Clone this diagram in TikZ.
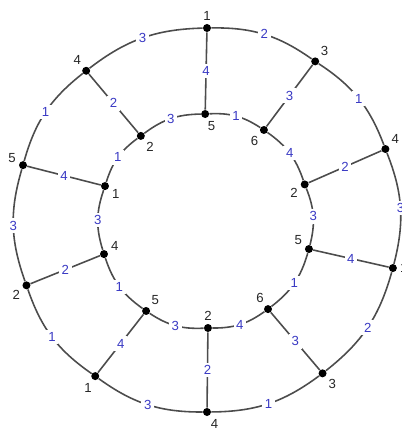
\documentclass[tikz,border=0pt]{standalone}
\usepackage{fontspec}
\setmainfont{Liberation Sans}
\usepackage{xcolor}
\usepackage{tikz}
\usetikzlibrary{positioning}

\definecolor{edgeblue}{RGB}{58,58,196}

\begin{document}
\begin{tikzpicture}[
  font=\fontsize{7.5}{8}\selectfont,
  vertex/.style={circle, fill=black, inner sep=0pt, minimum size=0.16cm},
  vlab/.style={inner sep=1pt, text=black!85},
  elab/.style={fill=white, inner sep=1.5pt, text=edgeblue},
  ring/.style={line width=0.9pt, black!70, bend left=18},
  spoke/.style={line width=0.9pt, black!70},
  label distance=0.5pt
]
\useasboundingbox (-4.14,-4.24) rectangle (3.88,4.40);

% outer cycle
\node[vertex, label={[vlab]90:1}]   (o1)  at (90:3.84) {};
\node[vertex, label={[vlab]48:3}]   (o2)  at (55.7:3.84) {};
\node[vertex, label={[vlab]40:4}]   (o3)  at (21.7:3.84) {};
\node[vertex, label={[vlab]0:1}]    (o4)  at (-14.5:3.84) {};
\node[vertex, label={[vlab]-42:3}]  (o5)  at (-53:3.84) {};
\node[vertex, label={[vlab]-70:4}]  (o6)  at (-90:3.84) {};
\node[vertex, label={[vlab]-105:1}] (o7)  at (-125.6:3.84) {};
\node[vertex, label={[vlab]211:2}]  (o8)  at (199.9:3.84) {};
\node[vertex, label={[vlab]175:5}]  (o9)  at (163.4:3.84) {};
\node[vertex, label={[vlab]126:4}]  (o10) at (129:3.84) {};

% inner cycle
\node[vertex, label={[vlab]-82:5}]  (i1)  at (91:2.12) {};
\node[vertex, label={[vlab]228:6}]  (i2)  at (57.7:2.13) {};
\node[vertex, label={[vlab]198:2}]  (i3)  at (20:2.08) {};
\node[vertex, label={[vlab]157:5}]  (i4)  at (-15.9:2.12) {};
\node[vertex, label={[vlab]114:6}]  (i5)  at (-55.6:2.16) {};
\node[vertex, label={[vlab]90:2}]   (i6)  at (-89.5:2.16) {};
\node[vertex, label={[vlab]48:5}]   (i7)  at (-123.8:2.19) {};
\node[vertex, label={[vlab]20:4}]   (i8)  at (198.3:2.17) {};
\node[vertex, label={[vlab]-14:1}]  (i9)  at (161.6:2.15) {};
\node[vertex, label={[vlab]-49:2}]  (i10) at (128.2:2.14) {};

% outer arcs
\draw[ring] (o1) to node[elab] {2} (o2);
\draw[ring] (o2) to node[elab] {1} (o3);
\draw[ring] (o3) to node[elab] {3} (o4);
\draw[ring] (o4) to node[elab] {2} (o5);
\draw[ring] (o5) to node[elab] {1} (o6);
\draw[ring] (o6) to node[elab] {3} (o7);
\draw[ring] (o7) to node[elab] {1} (o8);
\draw[ring] (o8) to node[elab] {3} (o9);
\draw[ring] (o9) to node[elab] {1} (o10);
\draw[ring] (o10) to node[elab] {3} (o1);

% inner arcs
\draw[ring] (i1) to node[elab] {1} (i2);
\draw[ring] (i2) to node[elab] {4} (i3);
\draw[ring] (i3) to node[elab] {3} (i4);
\draw[ring] (i4) to node[elab] {1} (i5);
\draw[ring] (i5) to node[elab] {4} (i6);
\draw[ring] (i6) to node[elab] {3} (i7);
\draw[ring] (i7) to node[elab] {1} (i8);
\draw[ring] (i8) to node[elab] {3} (i9);
\draw[ring] (i9) to node[elab] {1} (i10);
\draw[ring] (i10) to node[elab] {3} (i1);

% spokes
\draw[spoke] (o1) -- node[elab] {4} (i1);
\draw[spoke] (o2) -- node[elab] {3} (i2);
\draw[spoke] (o3) -- node[elab] {2} (i3);
\draw[spoke] (o4) -- node[elab] {4} (i4);
\draw[spoke] (o5) -- node[elab] {3} (i5);
\draw[spoke] (o6) -- node[elab] {2} (i6);
\draw[spoke] (o7) -- node[elab] {4} (i7);
\draw[spoke] (o8) -- node[elab] {2} (i8);
\draw[spoke] (o9) -- node[elab] {4} (i9);
\draw[spoke] (o10) -- node[elab] {2} (i10);

\end{tikzpicture}
\end{document}
